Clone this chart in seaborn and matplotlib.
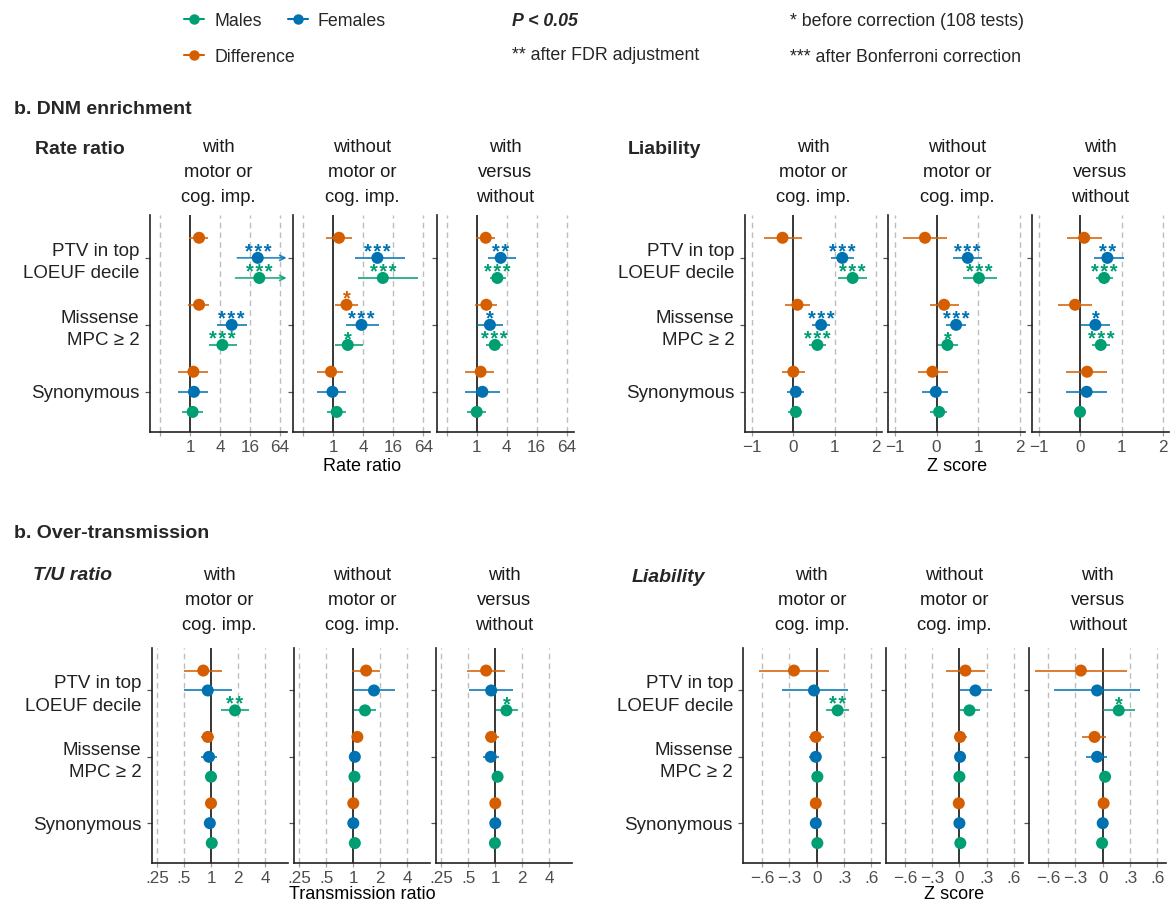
import matplotlib
matplotlib.use("Agg")
import matplotlib.pyplot as plt
import numpy as np
import pandas as pd
import seaborn as sns
from matplotlib.lines import Line2D

# ---------------- data ----------------
categories = ["PTV in top\nLOEUF decile", "Missense\nMPC \u2265 2", "Synonymous"]
series = ["Difference", "Females", "Males"]
colors = {"Males": "#009E73", "Females": "#0072B2", "Difference": "#D55E00"}
panel_titles = ["with\nmotor or\ncog. imp.", "without\nmotor or\ncog. imp.", "with\nversus\nwithout"]

# each panel: rows = categories, columns = [Difference, Females, Males]
dnm_rate_est = [
    [[1.52, 22.9, 24.6], [1.52, 6.87, 4.47], [1.17, 1.20, 1.13]],
    [[1.30, 7.67, 9.85], [1.84, 3.68, 1.95], [0.90, 0.96, 1.17]],
    [[1.52, 3.03, 2.60], [1.56, 1.84, 2.30], [1.20, 1.30, 1.00]],
]
dnm_rate_lo = [
    [[0.97, 8.94, 8.22], [0.92, 3.53, 2.40], [0.57, 0.58, 0.68]],
    [[0.71, 2.71, 3.16], [1.09, 1.84, 1.09], [0.48, 0.48, 0.76]],
    [[0.99, 1.65, 1.82], [0.92, 1.00, 1.52], [0.57, 0.57, 0.65]],
]
dnm_rate_hi = [
    [[2.33, 150.0, 150.0], [2.43, 14.1, 8.69], [2.26, 2.33, 1.84]],
    [[2.33, 27.4, 49.1], [3.07, 8.22, 3.89], [1.58, 1.77, 1.79]],
    [[2.33, 6.06, 3.84], [2.50, 3.43, 3.43], [2.26, 2.95, 1.56]],
]
dnm_rate_stars = [
    [["", "***", "***"], ["", "***", "***"], ["", "", ""]],
    [["", "***", "***"], ["*", "***", "*"], ["", "", ""]],
    [["", "**", "***"], ["", "*", "***"], ["", "", ""]],
]

dnm_z_est = [
    [[-0.26, 1.18, 1.43], [0.10, 0.67, 0.58], [0.00, 0.06, 0.06]],
    [[-0.28, 0.75, 1.02], [0.18, 0.47, 0.26], [-0.10, -0.02, 0.06]],
    [[0.10, 0.66, 0.58], [-0.12, 0.37, 0.50], [0.17, 0.16, 0.00]],
]
dnm_z_lo = [
    [[-0.70, 0.91, 1.08], [-0.21, 0.46, 0.38], [-0.27, -0.14, -0.12]],
    [[-0.81, 0.40, 0.63], [-0.15, 0.22, 0.04], [-0.45, -0.34, -0.15]],
    [[-0.31, 0.33, 0.38], [-0.53, 0.02, 0.28], [-0.33, -0.33, -0.03]],
]
dnm_z_hi = [
    [[0.20, 1.47, 1.78], [0.40, 0.88, 0.79], [0.28, 0.26, 0.22]],
    [[0.24, 1.10, 1.45], [0.54, 0.70, 0.51], [0.28, 0.28, 0.24]],
    [[0.52, 1.05, 0.80], [0.30, 0.72, 0.72], [0.66, 0.65, 0.03]],
]
dnm_z_stars = [
    [["", "***", "***"], ["", "***", "***"], ["", "", ""]],
    [["", "***", "***"], ["", "***", "*"], ["", "", ""]],
    [["", "**", "***"], ["", "*", "***"], ["", "", ""]],
]

tu_ratio_est = [
    [[0.82, 0.92, 1.85], [0.92, 0.95, 1.00], [1.00, 0.97, 1.02]],
    [[1.39, 1.70, 1.35], [1.11, 1.04, 1.03], [1.00, 1.00, 1.04]],
    [[0.79, 0.90, 1.33], [0.90, 0.89, 1.06], [1.00, 1.00, 0.99]],
]
tu_ratio_lo = [
    [[0.50, 0.50, 1.29], [0.77, 0.77, 0.97], [0.97, 0.94, 0.99]],
    [[0.96, 1.01, 1.01], [1.00, 0.90, 1.00], [0.97, 0.97, 1.01]],
    [[0.48, 0.51, 1.01], [0.77, 0.73, 1.02], [0.97, 0.97, 0.96]],
]
tu_ratio_hi = [
    [[1.32, 1.70, 2.68], [1.08, 1.17, 1.03], [1.03, 1.00, 1.05]],
    [[1.99, 2.90, 1.79], [1.20, 1.20, 1.06], [1.03, 1.03, 1.07]],
    [[1.27, 1.57, 1.79], [1.09, 1.09, 1.10], [1.03, 1.03, 1.02]],
]
tu_ratio_stars = [
    [["", "", "**"], ["", "", ""], ["", "", ""]],
    [["", "", ""], ["", "", ""], ["", "", ""]],
    [["", "", "*"], ["", "", ""], ["", "", ""]],
]

tu_z_est = [
    [[-0.25, -0.03, 0.23], [-0.01, -0.01, 0.007], [-0.01, -0.01, 0.007]],
    [[0.066, 0.176, 0.11], [0.007, 0.007, 0.0], [-0.007, 0.0, 0.01]],
    [[-0.24, -0.062, 0.176], [-0.09, -0.062, 0.026], [0.01, 0.0, -0.007]],
]
tu_z_lo = [
    [[-0.63, -0.38, 0.10], [-0.09, -0.08, -0.003], [-0.02, -0.02, -0.003]],
    [[-0.146, 0.007, 0.007], [-0.06, -0.045, -0.01], [-0.017, -0.01, 0.0]],
    [[-0.74, -0.53, 0.007], [-0.23, -0.18, -0.03], [0.0, -0.01, -0.017]],
]
tu_z_hi = [
    [[0.135, 0.34, 0.36], [0.08, 0.045, 0.017], [0.0, 0.0, 0.017]],
    [[0.28, 0.36, 0.23], [0.085, 0.06, 0.01], [0.003, 0.01, 0.02]],
    [[0.265, 0.41, 0.356], [0.037, 0.048, 0.07], [0.02, 0.01, 0.003]],
]
tu_z_stars = [
    [["", "", "**"], ["", "", ""], ["", "", ""]],
    [["", "", ""], ["", "", ""], ["", "", ""]],
    [["", "", "*"], ["", "", ""], ["", "", ""]],
]

# ---------------- style ----------------
sns.set_theme(style="white")
plt.rcParams["font.family"] = ["Liberation Sans", "DejaVu Sans"]
plt.rcParams["axes.unicode_minus"] = True

W, H = 1174, 905
fig = plt.figure(figsize=(W / 100, H / 100), dpi=100)

offsets = {"Difference": -0.3, "Females": 0.0, "Males": 0.3}
TICK_GRAY = "#4D4D4D"


def px_axes(left, top, width, bottom):
    return fig.add_axes([left / W, 1 - bottom / H, width / W, (bottom - top) / H])


def draw_block(lefts, width, top, bottom, est, lo, hi, stars, log, xlim, ticks,
               ticklabels, ref, grid, xlabel, xlabel_y, title_y):
    axes = []
    for p in range(3):
        ax = px_axes(lefts[p], top, width, bottom)
        rows = []
        for ci, cat in enumerate(categories):
            for si, s in enumerate(series):
                rows.append(dict(category=cat, series=s,
                                 ypos=ci + offsets[s],
                                 est=est[p][ci][si], lo=lo[p][ci][si],
                                 hi=hi[p][ci][si], star=stars[p][ci][si]))
        df = pd.DataFrame(rows)
        if log:
            ax.set_xscale("log", base=2)
        ax.set_xlim(*xlim)
        ax.set_ylim(2.6, -0.64)
        for g in grid:
            ax.axvline(g, color="#BDBDBD", lw=1.0, ls=(0, (4, 3)), zorder=0)
        ax.axvline(ref, color="black", lw=1.1, zorder=1)
        for _, r in df.iterrows():
            c = colors[r.series]
            if r.hi > xlim[1]:
                ax.annotate("", xy=(xlim[1] * 0.985, r.ypos), xytext=(r.lo, r.ypos),
                            arrowprops=dict(arrowstyle="->", color=c, lw=1.3,
                                            shrinkA=0, shrinkB=0, alpha=0.8,
                                            mutation_scale=9), zorder=2)
            else:
                ax.plot([r.lo, r.hi], [r.ypos, r.ypos], color=c, lw=1.4,
                        alpha=0.8, solid_capstyle="butt", zorder=2)
            if r.star:
                ax.annotate("\u200a".join(r.star), xy=(r.est, r.ypos),
                            xytext=(0, 0.0), textcoords="offset points",
                            ha="center", va="baseline", fontsize=14.5,
                            fontweight="bold", color=c, zorder=4)
        sns.scatterplot(data=df, x="est", y="ypos", hue="series", palette=colors,
                        hue_order=series, s=75, edgecolor="none", legend=False,
                        ax=ax, zorder=3)
        ax.set_xlabel("")
        ax.set_ylabel("")
        ax.set_xticks(ticks)
        ax.set_xticklabels(ticklabels)
        ax.xaxis.set_minor_locator(matplotlib.ticker.NullLocator())
        ax.set_yticks(range(len(categories)))
        if p == 0:
            ax.set_yticklabels(categories, fontsize=13.5, color="#222222",
                               linespacing=1.4)
        else:
            ax.set_yticklabels([])
        ax.tick_params(axis="x", length=3, width=0.9, color="#A0A0A0",
                       labelsize=12.3, labelcolor=TICK_GRAY, pad=2.5, bottom=True)
        ax.tick_params(axis="y", length=3.5, width=0.9, color="#555555",
                       pad=4, left=True)
        for side in ["top", "right"]:
            ax.spines[side].set_visible(False)
        for side in ["left", "bottom"]:
            ax.spines[side].set_color("#222222")
            ax.spines[side].set_linewidth(1.2)
        axes.append(ax)
        fig.text((lefts[p] + width / 2) / W, 1 - title_y / H, panel_titles[p],
                 ha="center", va="top", fontsize=13.2, linespacing=1.6,
                 color="#1a1a1a")
    mid = lefts[1] + width / 2
    fig.text(mid / W, 1 - xlabel_y / H, xlabel, ha="center", va="center",
             fontsize=13, color="black")
    return axes


# top-left: DNM rate ratio
draw_block([150, 293.3, 436.7], 137, 215, 432, dnm_rate_est, dnm_rate_lo, dnm_rate_hi,
           dnm_rate_stars, True, (2 ** -2.667, 2 ** 6.467), [0.25, 1, 4, 16, 64],
           ["", "1", "4", "16", "64"], 1, [0.25, 4, 16, 64], "Rate ratio", 466, 139)
# top-right: DNM liability
draw_block([745, 888.3, 1031.7], 137, 215, 432, dnm_z_est, dnm_z_lo, dnm_z_hi,
           dnm_z_stars, False, (-1.164, 2.137), [-1, 0, 1, 2],
           ["\u22121", "0", "1", "2"], 0, [-1, 1, 2], "Z score", 466, 139)
# bottom-left: T/U ratio
draw_block([151.7, 294, 436], 136, 648, 863, tu_ratio_est, tu_ratio_lo, tu_ratio_hi,
           tu_ratio_stars, True, (2 ** -2.196, 2 ** 2.84), [0.25, 0.5, 1, 2, 4],
           [".25", ".5", "1", "2", "4"], 1, [0.25, 0.5, 2, 4], "Transmission ratio", 894, 567)
# bottom-right: T/U liability
draw_block([743.3, 886, 1029.3], 137, 648, 863, tu_z_est, tu_z_lo, tu_z_hi,
           tu_z_stars, False, (-0.807, 0.699), [-0.6, -0.3, 0, 0.3, 0.6],
           ["\u2212.6", "\u2212.3", "0", ".3", ".6"], 0, [-0.6, -0.3, 0.3, 0.6],
           "Z score", 894, 567)

# section titles and block labels
fig.text(14 / W, 1 - 110 / H, "b. DNM enrichment", fontsize=14, fontweight="bold",
         va="center", ha="left")
fig.text(14 / W, 1 - 533 / H, "b. Over-transmission", fontsize=14, fontweight="bold",
         va="center", ha="left")
fig.text(35 / W, 1 - 149 / H, "Rate ratio", fontsize=14, fontweight="bold",
         va="center", ha="left")
fig.text(628 / W, 1 - 149 / H, "Liability", fontsize=14, fontweight="bold",
         va="center", ha="left")
fig.text(33 / W, 1 - 575 / H, "T/U ratio", fontsize=14, fontweight="bold",
         fontstyle="italic", va="center", ha="left")
fig.text(632 / W, 1 - 577 / H, "Liability", fontsize=14, fontweight="bold",
         fontstyle="italic", va="center", ha="left")

# legend (two rows: Males/Females, then Difference)
def handle(s):
    return Line2D([0], [0], color=colors[s], marker="o", markersize=6.5, lw=1.5)

leg_kw = dict(frameon=False, fontsize=12.8, handlelength=1.15, handletextpad=0.55,
              borderpad=0, borderaxespad=0, loc="center left")
fig.legend([handle("Males"), handle("Females")], ["Males", "Females"], ncol=2,
           columnspacing=1.45, bbox_to_anchor=(184 / W, 1 - 21 / H), **leg_kw)
fig.legend([handle("Difference")], ["Difference"], ncol=1,
           bbox_to_anchor=(184 / W, 1 - 57 / H), **leg_kw)

fig.text(512 / W, 1 - 21 / H, "P < 0.05", fontsize=12.8, fontweight="bold",
         fontstyle="italic", va="center", ha="left")
fig.text(512 / W, 1 - 55 / H, "** after FDR adjustment", fontsize=12.8,
         va="center", ha="left")
fig.text(790 / W, 1 - 21 / H, "* before correction (108 tests)", fontsize=12.8,
         va="center", ha="left")
fig.text(790 / W, 1 - 57 / H, "*** after Bonferroni correction", fontsize=12.8,
         va="center", ha="left")

fig.savefig("out.png", dpi=100, facecolor="white")
